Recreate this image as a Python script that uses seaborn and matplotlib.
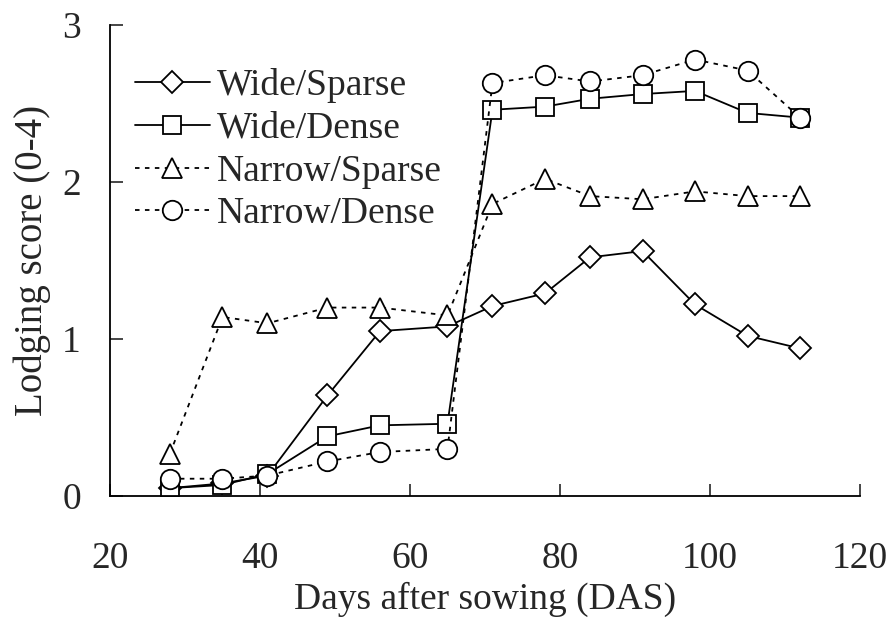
import matplotlib
matplotlib.use("Agg")
import matplotlib.pyplot as plt
import seaborn as sns
import pandas as pd

# days after sowing
das = [28, 35, 41, 49, 56, 65, 71, 78, 84, 91, 98, 105, 112]

# lodging scores
wide_sparse = [0.05, 0.08, 0.13, 0.64, 1.05, 1.08, 1.21, 1.29, 1.52, 1.56, 1.22, 1.02, 0.94]
wide_dense = [0.05, 0.07, 0.14, 0.38, 0.45, 0.46, 2.46, 2.48, 2.53, 2.56, 2.58, 2.44, 2.41]
narrow_sparse = [0.27, 1.14, 1.10, 1.20, 1.20, 1.15, 1.86, 2.02, 1.91, 1.89, 1.94, 1.91, 1.91]
narrow_dense = [0.11, 0.11, 0.13, 0.22, 0.28, 0.30, 2.63, 2.68, 2.64, 2.68, 2.78, 2.71, 2.41]

labels = ["Wide/Sparse", "Wide/Dense", "Narrow/Sparse", "Narrow/Dense"]
series = [wide_sparse, wide_dense, narrow_sparse, narrow_dense]
markers = ["D", "s", "^", "o"]
sizes = [11, 13.5, 15, 14]
dashes = ["-", "-", (0, (2.5, 3)), (0, (2.5, 3))]

sns.set_style("ticks")
plt.rcParams["font.family"] = ["Liberation Serif", "DejaVu Serif"]

fig = plt.figure(figsize=(8.89, 6.26), dpi=100)
ax = fig.add_axes([0.1237, 0.2077, 0.8437, 0.7524])

for lab, vals, m, ms, ls in zip(labels, series, markers, sizes, dashes):
    df = pd.DataFrame({"DAS": das, "score": vals})
    sns.lineplot(data=df, x="DAS", y="score", ax=ax, color="black", lw=1.3,
                 linestyle=ls, marker=m, ms=ms, mfc="white", mec="black",
                 mew=1.3, label=lab)

ax.set_xlim(20, 120)
ax.set_ylim(0, 3)
ax.set_xticks([20, 40, 60, 80, 100, 120])
ax.set_yticks([0, 1, 2, 3])
ax.tick_params(axis="x", direction="in", length=9, width=1.2, pad=33, labelsize=27)
ax.tick_params(axis="y", direction="in", length=9, width=1.2, pad=21, labelsize=27)
for s in ["left", "bottom"]:
    ax.spines[s].set_linewidth(1.3)
    ax.spines[s].set_color("black")
sns.despine(ax=ax)

ax.set_xlabel("Days after sowing (DAS)", fontsize=27, labelpad=4)
ax.set_ylabel("Lodging score (0-4)", fontsize=28, labelpad=8)

ax.legend(loc="upper left", bbox_to_anchor=(0.013, 0.94), frameon=False,
          fontsize=27, handlelength=2.0, handletextpad=0.2, labelspacing=0.22,
          numpoints=1, borderaxespad=0)

fig.savefig("out.png", dpi=100)
